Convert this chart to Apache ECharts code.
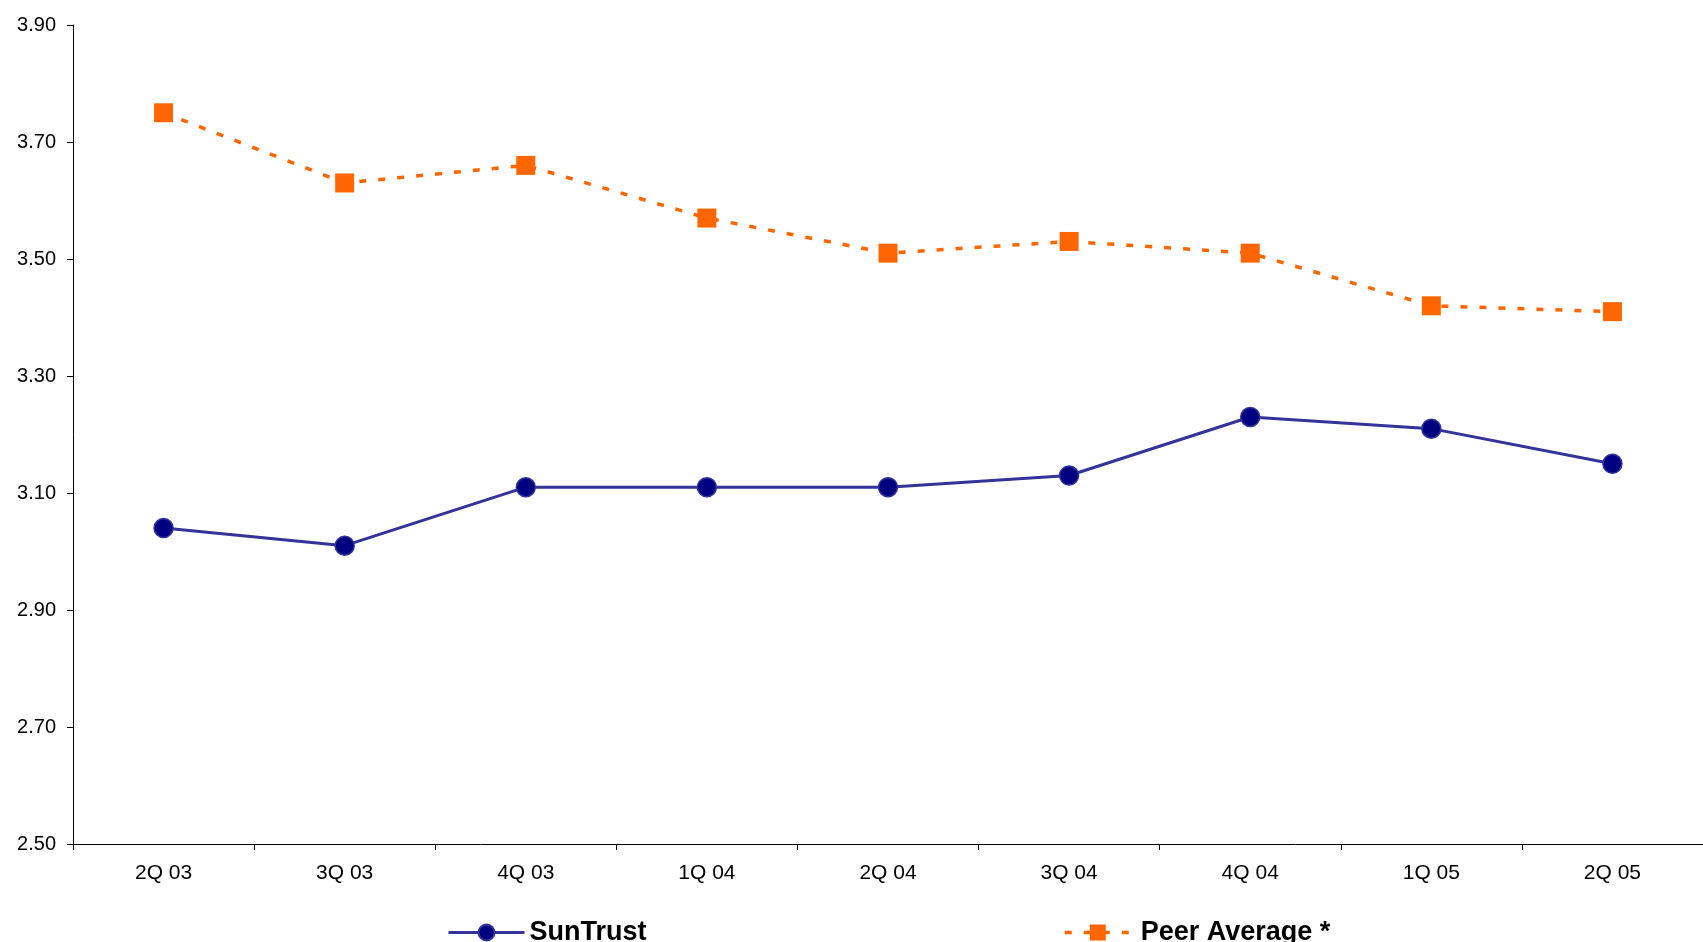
<!DOCTYPE html>
<html>
<head>
<meta charset="utf-8">
<title>SunTrust vs Peer Average</title>
<script src="https://cdn.jsdelivr.net/npm/echarts@6/dist/echarts.min.js"></script>
<style>
  html, body { margin: 0; padding: 0; background: #fff; }
  #chart { width: 1703px; height: 942px; }
</style>
</head>
<body>
<div id="chart"></div>
<script>
const quarters = ['2Q 03', '3Q 03', '4Q 03', '1Q 04', '2Q 04', '3Q 04', '4Q 04', '1Q 05', '2Q 05']
const sunTrust = [3.04, 3.01, 3.11, 3.11, 3.11, 3.13, 3.23, 3.21, 3.15]
const peerAverage = [3.75, 3.63, 3.66, 3.57, 3.51, 3.53, 3.51, 3.42, 3.41]

const font = 'Liberation Sans, Arial, sans-serif'
const legendText = { fontSize: 27, fontWeight: 'bold', color: '#000', fontFamily: font }

const chart = echarts.init(document.getElementById('chart'))

chart.setOption({
  animation: false,
  textStyle: { fontFamily: font },
  grid: {
    left: 73,
    right: 0,
    top: 25,
    bottom: 98
  },
  legend: [{
    data: ['SunTrust'],
    left: 442,
    top: 914,
    itemWidth: 76,
    itemHeight: 20,
    lineStyle: { width: 3 },
    textStyle: legendText
  }, {
    data: ['Peer Average *'],
    left: 1058,
    top: 914,
    itemWidth: 66,
    itemHeight: 20,
    lineStyle: { width: 3.5 },
    textStyle: Object.assign({ padding: [0, 0, 0, 5] }, legendText)
  }],
  xAxis: {
    type: 'category',
    data: quarters,
    boundaryGap: true,
    axisLine: { lineStyle: { color: '#000', width: 1 } },
    axisTick: { show: true, interval: 0, length: 6, lineStyle: { color: '#000' } },
    axisLabel: { color: '#000', fontSize: 21, margin: 19 }
  },
  yAxis: {
    type: 'value',
    min: 2.5,
    max: 3.9,
    interval: 0.2,
    splitLine: { show: false },
    axisLine: { show: true, lineStyle: { color: '#000', width: 1 } },
    axisTick: { show: true, length: 6, lineStyle: { color: '#000' } },
    axisLabel: {
      color: '#000',
      fontSize: 20,
      margin: 17,
      formatter: v => v.toFixed(2)
    }
  },
  series: [{
    name: 'SunTrust',
    type: 'line',
    data: sunTrust,
    symbol: 'circle',
    symbolSize: 19,
    lineStyle: { color: '#333399', width: 3 },
    itemStyle: { color: '#000080', borderColor: '#333399', borderWidth: 1.5 }
  }, {
    name: 'Peer Average *',
    type: 'line',
    data: peerAverage,
    symbol: 'rect',
    symbolSize: 19,
    lineStyle: { color: '#FF6600', width: 3.5, type: [7, 12] },
    itemStyle: { color: '#FF6600' }
  }]
})
</script>
</body>
</html>
